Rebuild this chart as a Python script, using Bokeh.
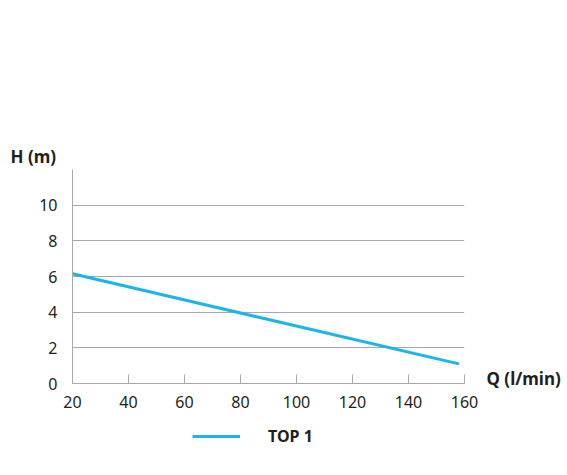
from bokeh.plotting import figure
from bokeh.layouts import column
from bokeh.models import FixedTicker, Legend, LegendItem, Range1d, LinearAxis, Title
from bokeh.embed import file_html
from bokeh.resources import INLINE

# data
q_values = [20, 158]
h_values = [6.15, 1.1]
x_ticks = [20, 40, 60, 80, 100, 120, 140, 160]
y_ticks = [0, 2, 4, 6, 8, 10]
grid_ticks = [2, 4, 6, 8, 10, 12]
series_name = "TOP 1"
x_title = "Q (l/min)"
y_title = "H (m)"

FONT = "Noto Sans"
TXT = "#231f20"
GRID = "#a7a9ac"
LINE = "#1cb5ea"

p = figure(width=567, height=415, output_backend="svg", toolbar_location=None,
           x_range=Range1d(20, 160), y_range=Range1d(0, 12),
           min_border_left=72, min_border_right=103, min_border_top=169, min_border_bottom=32)
p.outline_line_color = None
p.background_fill_color = "white"

r = p.line(q_values, h_values, line_color=LINE, line_width=3)

p.xaxis.ticker = FixedTicker(ticks=x_ticks)
p.yaxis.ticker = FixedTicker(ticks=y_ticks)
p.xgrid.visible = False
p.ygrid.ticker = FixedTicker(ticks=grid_ticks)
p.ygrid.grid_line_color = GRID
p.ygrid.grid_line_width = 1

for ax in (p.xaxis, p.yaxis):
    ax.axis_line_color = GRID
    ax.axis_line_width = 1
    ax.minor_tick_line_color = None
    ax.major_label_text_font = FONT
    ax.major_label_text_font_size = "16px"
    ax.major_label_text_color = TXT

p.xaxis.major_tick_in = 9
p.xaxis.major_tick_out = 0
p.xaxis.major_tick_line_color = GRID
p.xaxis.major_label_standoff = 12
p.yaxis.major_tick_line_color = None
p.yaxis.major_tick_in = 0
p.yaxis.major_tick_out = 0
p.yaxis.major_label_standoff = 15

# x title as a label on a right-hand axis at the baseline
qax = LinearAxis(ticker=FixedTicker(ticks=[0.3]), major_label_overrides={0.3: x_title},
                 axis_line_color=None, major_tick_line_color=None, minor_tick_line_color=None,
                 major_tick_in=0, major_tick_out=0, major_label_standoff=22,
                 major_label_text_font=FONT, major_label_text_font_size="17px",
                 major_label_text_font_style="bold", major_label_text_color=TXT)
p.add_layout(qax, "right")

# y title above the plot, left
p.add_layout(Title(text=y_title, align="left", offset=-62, standoff=4,
                   text_font=FONT, text_font_size="17px", text_font_style="bold",
                   text_color=TXT), "above")

# legend strip below the chart
p2 = figure(width=567, height=55, output_backend="svg", toolbar_location=None,
            x_range=Range1d(0, 1), y_range=Range1d(0, 1),
            min_border_left=0, min_border_right=0, min_border_top=0, min_border_bottom=0)
p2.outline_line_color = None
p2.axis.visible = False
p2.grid.visible = False
r2 = p2.line(q_values, h_values, line_color=LINE, line_width=3, visible=False)

legend = Legend(items=[LegendItem(label=series_name, renderers=[r2])],
                location=(120, 23), orientation="horizontal",
                glyph_width=48, glyph_height=20, label_standoff=28,
                border_line_color=None, background_fill_alpha=0,
                padding=0, margin=0, label_text_font=FONT,
                label_text_font_size="16px", label_text_font_style="bold",
                label_text_color=TXT)
p2.add_layout(legend, "center")

layout = column(p, p2, spacing=0)
open("out.html", "w").write(file_html(layout, INLINE))
